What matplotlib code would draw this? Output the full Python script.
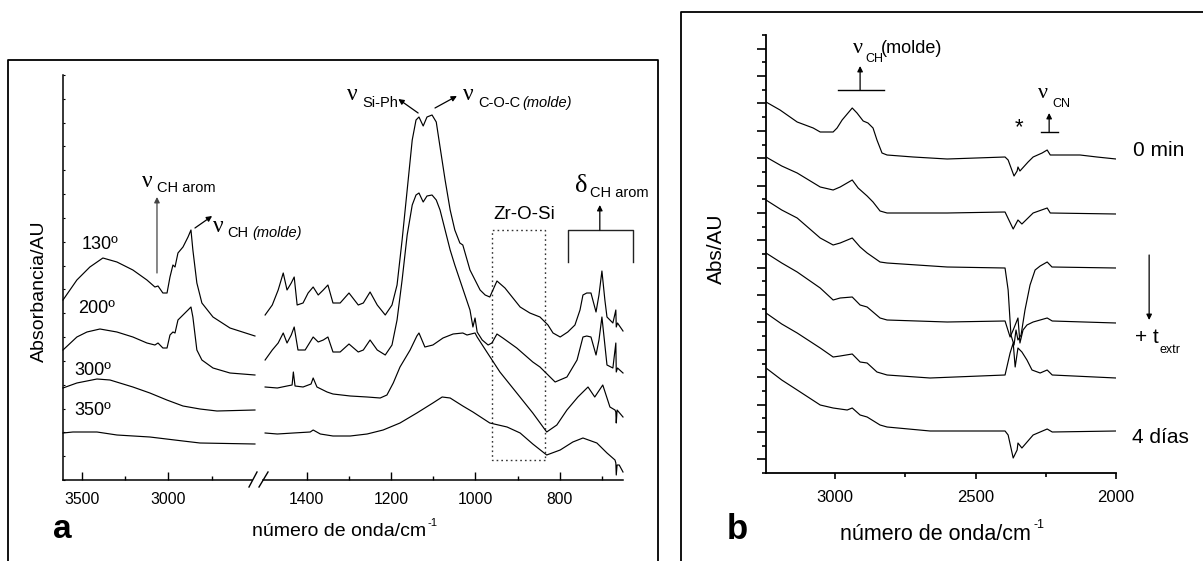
import numpy as np
import matplotlib
matplotlib.use('Agg')
import matplotlib.pyplot as plt
import matplotlib.transforms as mtransforms
from matplotlib.lines import Line2D
from matplotlib.patches import Rectangle

plt.rcParams['font.family'] = ['Liberation Sans', 'DejaVu Sans']

# ---------------- data: panel a ----------------
temp_labels = ['130º', '200º', '300º', '350º']

wn_hi_130 = [3607, 3527, 3452, 3377, 3296, 3204, 3123, 3077, 3059, 3031, 3007, 2990, 2973, 2961, 2944, 2915, 2886, 2869, 2858, 2835, 2806, 2742, 2644, 2500]
ab_hi_130 = [1.80, 2.00, 2.13, 2.22, 2.18, 2.10, 2.00, 1.93, 1.94, 1.87, 1.87, 2.03, 2.15, 2.13, 2.27, 2.33, 2.43, 2.50, 2.30, 1.97, 1.77, 1.63, 1.52, 1.44]
wn_hi_200 = [3607, 3527, 3469, 3394, 3296, 3204, 3123, 3077, 3059, 3031, 3007, 2990, 2973, 2961, 2944, 2915, 2886, 2869, 2858, 2835, 2806, 2742, 2644, 2500]
ab_hi_200 = [1.30, 1.43, 1.48, 1.51, 1.48, 1.43, 1.37, 1.35, 1.37, 1.32, 1.32, 1.45, 1.48, 1.47, 1.60, 1.65, 1.70, 1.73, 1.63, 1.30, 1.20, 1.12, 1.07, 1.05]
wn_hi_300 = [3607, 3527, 3411, 3336, 3204, 3106, 3008, 2915, 2817, 2719, 2500]
ab_hi_300 = [0.92, 0.97, 1.01, 1.00, 0.93, 0.87, 0.80, 0.74, 0.71, 0.69, 0.70]
wn_hi_350 = [3607, 3550, 3411, 3296, 3106, 2915, 2817, 2500]
ab_hi_350 = [0.47, 0.48, 0.48, 0.45, 0.43, 0.39, 0.37, 0.36]

wn_lo_130 = [1499, 1482, 1468, 1456, 1447, 1437, 1430, 1423, 1409, 1397, 1385, 1373, 1361, 1350, 1338, 1321, 1300, 1278, 1266, 1250,
             1233, 1214, 1198, 1186, 1174, 1162, 1150, 1141, 1134, 1124, 1115, 1103, 1093, 1084, 1072, 1060, 1049, 1037, 1030, 1013,
             1001, 989, 977, 966, 949, 930, 894, 871, 847, 828, 816, 799, 781, 764, 752, 745, 736, 726, 714, 707,
             700, 693, 688, 674, 667, 666, 663, 650]
ab_lo_130 = [1.65, 1.75, 1.90, 2.07, 1.90, 1.97, 2.03, 1.75, 1.77, 1.87, 1.93, 1.85, 1.90, 1.95, 1.77, 1.77, 1.87, 1.75, 1.77, 1.88,
             1.75, 1.65, 1.75, 1.95, 2.40, 2.90, 3.40, 3.60, 3.63, 3.54, 3.63, 3.65, 3.58, 3.33, 3.00, 2.70, 2.50, 2.37, 2.35, 2.10,
             2.00, 1.90, 1.85, 1.83, 1.99, 1.92, 1.73, 1.67, 1.63, 1.55, 1.47, 1.43, 1.48, 1.55, 1.70, 1.85, 1.87, 1.87, 1.68, 1.85,
             2.09, 1.80, 1.63, 1.57, 1.70, 1.53, 1.57, 1.49]
wn_lo_200 = [1499, 1482, 1468, 1456, 1447, 1437, 1430, 1421, 1404, 1385, 1373, 1361, 1350, 1338, 1321, 1300, 1278, 1266, 1250, 1233,
             1214, 1198, 1186, 1174, 1162, 1150, 1141, 1134, 1124, 1115, 1103, 1093, 1084, 1072, 1060, 1049, 1037, 1025, 1013, 1006,
             1001, 996, 984, 970, 961, 949, 935, 902, 864, 847, 811, 783, 759, 745, 736, 726, 714, 707, 700, 693,
             688, 674, 667, 666, 663, 650]
ab_lo_200 = [1.20, 1.30, 1.37, 1.47, 1.37, 1.45, 1.53, 1.30, 1.30, 1.43, 1.38, 1.40, 1.43, 1.28, 1.28, 1.36, 1.28, 1.30, 1.40, 1.30,
             1.25, 1.35, 1.60, 2.00, 2.45, 2.75, 2.85, 2.87, 2.78, 2.84, 2.85, 2.80, 2.70, 2.50, 2.30, 2.15, 2.00, 1.85, 1.70, 1.53,
             1.62, 1.48, 1.40, 1.35, 1.37, 1.46, 1.42, 1.32, 1.18, 1.13, 0.98, 1.03, 1.20, 1.43, 1.44, 1.43, 1.25, 1.40, 1.63, 1.35,
             1.15, 1.12, 1.37, 1.08, 1.12, 1.07]
wn_lo_300 = [1499, 1470, 1447, 1435, 1432, 1428, 1409, 1390, 1385, 1376, 1352, 1338, 1297, 1257, 1226, 1210, 1195, 1179, 1155, 1139,
             1134, 1120, 1101, 1077, 1053, 1030, 1020, 1001, 996, 973, 942, 902, 864, 831, 807, 783, 757, 733, 717, 698,
             681, 669, 667, 666, 664, 660, 650]
ab_lo_300 = [0.93, 0.92, 0.94, 0.95, 1.08, 0.94, 0.93, 0.96, 1.02, 0.93, 0.88, 0.86, 0.84, 0.83, 0.82, 0.85, 0.97, 1.13, 1.30, 1.44,
             1.47, 1.33, 1.35, 1.42, 1.46, 1.47, 1.45, 1.47, 1.43, 1.28, 1.08, 0.87, 0.67, 0.48, 0.55, 0.70, 0.83, 0.93, 0.83, 0.95,
             0.73, 0.70, 0.68, 0.57, 0.70, 0.68, 0.63]
wn_lo_350 = [1499, 1470, 1432, 1392, 1385, 1368, 1338, 1297, 1257, 1219, 1179, 1139, 1101, 1079, 1060, 1030, 1006, 966, 925, 894,
             864, 831, 799, 769, 745, 712, 688, 669, 667, 666, 664, 659, 650]
ab_lo_350 = [0.47, 0.46, 0.47, 0.48, 0.50, 0.46, 0.44, 0.44, 0.46, 0.50, 0.57, 0.67, 0.77, 0.83, 0.82, 0.74, 0.68, 0.57, 0.53, 0.47,
             0.36, 0.25, 0.30, 0.38, 0.42, 0.37, 0.27, 0.20, 0.17, 0.05, 0.15, 0.15, 0.08]

ticks_a_hi = [3500, 3000]
minor_a_hi = [3250, 2750]
ticks_a_lo = [1400, 1200, 1000, 800]
minor_a_lo = [1300, 1100, 900, 700]

# ---------------- data: panel b ----------------
wn_b1 = [3246, 3196, 3135, 3078, 3053, 3007, 2993, 2975, 2939, 2922, 2900, 2883, 2865, 2851, 2833, 2815, 2722, 2601, 2395, 2384,
         2363, 2352, 2349, 2342, 2313, 2295, 2263, 2245, 2234, 2128, 2068, 2000]
ab_b1 = [3.71, 3.63, 3.51, 3.45, 3.41, 3.41, 3.45, 3.53, 3.65, 3.60, 3.52, 3.50, 3.45, 3.33, 3.20, 3.18, 3.16, 3.14, 3.16, 3.13,
         2.97, 3.02, 3.06, 3.02, 3.11, 3.16, 3.20, 3.23, 3.18, 3.18, 3.16, 3.14]
wn_b2 = [3246, 3190, 3135, 3053, 3007, 2982, 2939, 2918, 2886, 2865, 2840, 2815, 2601, 2395, 2366, 2349, 2335, 2295, 2245, 2234, 2000]
ab_b2 = [3.16, 3.07, 3.00, 2.86, 2.83, 2.86, 2.93, 2.85, 2.77, 2.71, 2.62, 2.60, 2.60, 2.61, 2.44, 2.53, 2.49, 2.60, 2.65, 2.60, 2.59]
wn_b3 = [3246, 3190, 3135, 3053, 3007, 2982, 2939, 2911, 2886, 2840, 2815, 2601, 2395, 2384, 2374, 2363, 2356, 2349, 2338, 2324, 2306,
         2288, 2270, 2245, 2228, 2000]
ab_b3 = [2.73, 2.63, 2.55, 2.35, 2.28, 2.30, 2.35, 2.26, 2.20, 2.11, 2.10, 2.06, 2.05, 1.83, 1.38, 1.28, 1.43, 1.33, 1.38, 1.63, 1.88,
         2.03, 2.07, 2.11, 2.06, 2.05]
wn_b4 = [3246, 3190, 3135, 3053, 3007, 2982, 2939, 2911, 2886, 2840, 2815, 2601, 2395, 2377, 2366, 2349, 2342, 2331, 2317, 2295, 2245,
         2227, 2000]
ab_b4 = [2.20, 2.10, 2.01, 1.85, 1.73, 1.75, 1.76, 1.68, 1.66, 1.55, 1.53, 1.51, 1.52, 1.36, 1.43, 1.55, 1.30, 1.43, 1.48, 1.51, 1.55,
         1.52, 1.50]
wn_b5 = [3246, 3190, 3135, 3053, 3007, 2982, 2939, 2911, 2886, 2851, 2815, 2662, 2395, 2377, 2366, 2359, 2349, 2335, 2317, 2299, 2270,
         2245, 2227, 2000]
ab_b5 = [1.60, 1.49, 1.40, 1.25, 1.16, 1.17, 1.19, 1.11, 1.10, 1.01, 0.98, 0.95, 0.98, 1.20, 1.30, 1.06, 1.25, 1.21, 1.13, 1.03, 1.00,
         1.03, 0.98, 0.95]
wn_b6 = [3246, 3190, 3135, 3053, 3007, 2957, 2939, 2911, 2886, 2840, 2815, 2662, 2395, 2384, 2366, 2352, 2349, 2335, 2295, 2245, 2227,
         2000]
ab_b6 = [1.05, 0.93, 0.83, 0.68, 0.65, 0.63, 0.65, 0.58, 0.56, 0.48, 0.46, 0.42, 0.42, 0.38, 0.15, 0.23, 0.30, 0.25, 0.38, 0.44, 0.41,
         0.42]

ticks_b = [3000, 2500, 2000]
minor_b = [2750, 2250]

# ---------------- figure ----------------
W, H = 1203, 561
fig = plt.figure(figsize=(W / 100, H / 100), dpi=100)
pxT = mtransforms.Affine2D().scale(1.0 / W, -1.0 / H).translate(0, 1) + fig.transFigure


def ax_px(x0, y0, x1, y1):
    return fig.add_axes([x0 / W, 1 - y1 / H, (x1 - x0) / W, (y1 - y0) / H])


def fline(xs, ys, **kw):
    fig.add_artist(Line2D(xs, ys, transform=pxT, **kw))


def ftext(x, y, s, **kw):
    return fig.text(x, y, s, transform=pxT, **kw)


SERIF = ['Liberation Serif', 'DejaVu Serif']
LW = 0.85

# frames
fline([8, 8, 658, 658], [561, 60, 60, 561], color='k', lw=1.3)
fline([681, 681, 1203], [561, 12, 12], color='k', lw=1.3)

# ---- panel a axes ----
YMAX_A = 4.05
axA1 = ax_px(63, 75, 252, 480)
axA2 = ax_px(263, 75, 623, 480)
for ax in (axA1, axA2):
    ax.set_ylim(0, YMAX_A)
    ax.patch.set_alpha(0)
    ax.spines['top'].set_visible(False)
    ax.spines['right'].set_visible(False)
    ax.spines['bottom'].set_linewidth(1.1)
    ax.spines['left'].set_linewidth(1.1)
axA2.spines['left'].set_visible(False)
axA1.set_xlim(3607, 2517)
axA2.set_xlim(1504, 650)

axA1.set_xticks(ticks_a_hi)
axA1.set_xticklabels([str(t) for t in ticks_a_hi])
axA1.set_xticks(minor_a_hi, minor=True)
axA2.set_xticks(ticks_a_lo)
axA2.set_xticklabels([str(t) for t in ticks_a_lo])
axA2.set_xticks(minor_a_lo, minor=True)
for ax in (axA1, axA2):
    ax.tick_params(axis='x', which='major', direction='in', length=6, width=1.0, pad=8.5, labelsize=11.3)
    ax.tick_params(axis='x', which='minor', direction='in', length=3, width=1.0)
axA1.set_yticks(np.linspace(0, YMAX_A, 18))
axA1.tick_params(axis='y', which='major', direction='in', length=1.5, width=0.8, labelleft=False)
axA2.set_yticks([])

hi_sets = [(wn_hi_130, ab_hi_130), (wn_hi_200, ab_hi_200), (wn_hi_300, ab_hi_300), (wn_hi_350, ab_hi_350)]
lo_sets = [(wn_lo_130, ab_lo_130), (wn_lo_200, ab_lo_200), (wn_lo_300, ab_lo_300), (wn_lo_350, ab_lo_350)]
for (x, y) in hi_sets:
    axA1.plot(x, y, color='k', lw=LW, clip_on=False)
for (x, y) in lo_sets:
    axA2.plot(x, y, color='k', lw=LW, clip_on=False)

# break marks
fline([249, 257], [487, 472], color='k', lw=1.0)
fline([259, 268], [487, 472], color='k', lw=1.0)

# Zr-O-Si dotted box
axA2.add_patch(Rectangle((834, 0.20), 961 - 834, 2.50 - 0.20, fill=False, ls=(0, (1.2, 2.2)),
                         lw=1.0, ec='#333333', clip_on=False))
# delta CH arom bracket
axA2.plot([781, 781, 627, 627], [2.18, 2.50, 2.50, 2.18], color='#222222', lw=1.0, clip_on=False)

arrow_kw = dict(arrowstyle='-|>', lw=0.9, mutation_scale=8, shrinkA=0, shrinkB=0)
axA2.annotate('', xy=(705, 2.75), xytext=(705, 2.50), arrowprops=dict(color='k', **arrow_kw), annotation_clip=False)
axA2.annotate('', xy=(1183, 3.81), xytext=(1136, 3.67), arrowprops=dict(color='k', **arrow_kw), annotation_clip=False)
axA2.annotate('', xy=(1044, 3.84), xytext=(1096, 3.72), arrowprops=dict(color='k', **arrow_kw), annotation_clip=False)
axA1.annotate('', xy=(3065, 2.83), xytext=(3065, 2.07), arrowprops=dict(color='#444444', **arrow_kw), annotation_clip=False)
axA1.annotate('', xy=(2747, 2.64), xytext=(2846, 2.52), arrowprops=dict(color='k', **arrow_kw), annotation_clip=False)

# panel a texts
ftext(39, 291, 'Absorbancia/AU', rotation=90, ha='center', va='center', fontsize=14)
for lab, (xx, yy) in zip(temp_labels, [(82, 249), (78, 313), (74, 375), (74, 415)]):
    ftext(xx, yy, lab, ha='left', va='baseline', fontsize=13)
ftext(53, 538, 'a', ha='left', va='baseline', fontsize=24, fontweight='bold')
ftext(252, 536, 'número de onda/cm', ha='left', va='baseline', fontsize=14)
ftext(427, 526, '-1', ha='left', va='baseline', fontsize=8)

ftext(142, 187, 'ν', ha='left', va='baseline', fontsize=17, family=SERIF)
ftext(157, 192, 'CH arom', ha='left', va='baseline', fontsize=10.5)
ftext(213, 232, 'ν', ha='left', va='baseline', fontsize=17, family=SERIF)
ftext(227, 237, 'CH', ha='left', va='baseline', fontsize=10.5)
ftext(252, 237, '(molde)', ha='left', va='baseline', fontsize=10.5, style='italic')
ftext(347, 100, 'ν', ha='left', va='baseline', fontsize=17, family=SERIF)
ftext(362, 107, 'Si-Ph', ha='left', va='baseline', fontsize=10.5)
ftext(463, 100, 'ν', ha='left', va='baseline', fontsize=17, family=SERIF)
ftext(478, 107, 'C-O-C', ha='left', va='baseline', fontsize=10.5)
ftext(522, 107, '(molde)', ha='left', va='baseline', fontsize=10.5, style='italic')
ftext(493, 219, 'Zr-O-Si', ha='left', va='baseline', fontsize=13.5)
ftext(575, 192, 'δ', ha='left', va='baseline', fontsize=19, family=SERIF)
ftext(590, 197, 'CH arom', ha='left', va='baseline', fontsize=10.5)

# ---- panel b axes ----
YMAX_B = 4.38
axB = ax_px(766, 35, 1116, 473)
axB.set_xlim(3246, 2000)
axB.set_ylim(0, YMAX_B)
axB.patch.set_alpha(0)
axB.spines['top'].set_visible(False)
axB.spines['right'].set_visible(False)
axB.spines['bottom'].set_linewidth(1.3)
axB.spines['left'].set_linewidth(1.3)
axB.set_xticks(ticks_b)
axB.set_xticklabels([str(t) for t in ticks_b])
axB.set_xticks(minor_b, minor=True)
yt = np.linspace(0, YMAX_B, 33)
axB.set_yticks(yt[1::2])
axB.set_yticks(yt[0::2], minor=True)
axB.tick_params(axis='x', which='major', direction='out', length=4.5, width=1.2, pad=7.5, labelsize=12)
axB.tick_params(axis='x', which='minor', direction='out', length=3, width=1.2)
axB.tick_params(axis='y', which='major', direction='out', length=6.5, width=1.2, labelleft=False)
axB.tick_params(axis='y', which='minor', direction='out', length=3.2, width=1.2)

for (x, y) in [(wn_b1, ab_b1), (wn_b2, ab_b2), (wn_b3, ab_b3), (wn_b4, ab_b4), (wn_b5, ab_b5), (wn_b6, ab_b6)]:
    axB.plot(x, y, color='k', lw=LW)

axB.plot([2989, 2826], [3.83, 3.83], color='k', lw=1.0, clip_on=False)
axB.annotate('', xy=(2911, 4.07), xytext=(2911, 3.83), arrowprops=dict(color='k', **arrow_kw), annotation_clip=False)
axB.plot([2267, 2206], [3.41, 3.41], color='k', lw=1.0, clip_on=False)
axB.annotate('', xy=(2238, 3.60), xytext=(2238, 3.41), arrowprops=dict(color='k', **arrow_kw), annotation_clip=False)
axB.annotate('', xy=(1882, 1.53), xytext=(1882, 2.18), arrowprops=dict(color='k', **arrow_kw), annotation_clip=False)

ftext(716, 249, 'Abs/AU', rotation=90, ha='center', va='center', fontsize=15)
ftext(853, 53, 'ν', ha='left', va='baseline', fontsize=16, family=SERIF)
ftext(865, 62, 'CH', ha='left', va='baseline', fontsize=9)
ftext(881, 53, '(molde)', ha='left', va='baseline', fontsize=13)
ftext(1038, 98, 'ν', ha='left', va='baseline', fontsize=16, family=SERIF)
ftext(1052, 107, 'CN', ha='left', va='baseline', fontsize=9)
ftext(1019, 128, '*', ha='center', va='center', fontsize=16)
ftext(1133, 156, '0 min', ha='left', va='baseline', fontsize=15)
ftext(1135, 343, '+ t', ha='left', va='baseline', fontsize=15)
ftext(1160, 353, 'extr', ha='left', va='baseline', fontsize=9)
ftext(1132, 443, '4 días', ha='left', va='baseline', fontsize=15)
ftext(727, 539, 'b', ha='left', va='baseline', fontsize=25, fontweight='bold')
ftext(840, 540, 'número de onda/cm', ha='left', va='baseline', fontsize=15.5)
ftext(1034, 528, '-1', ha='left', va='baseline', fontsize=9)

fig.savefig('out.png', dpi=100)
